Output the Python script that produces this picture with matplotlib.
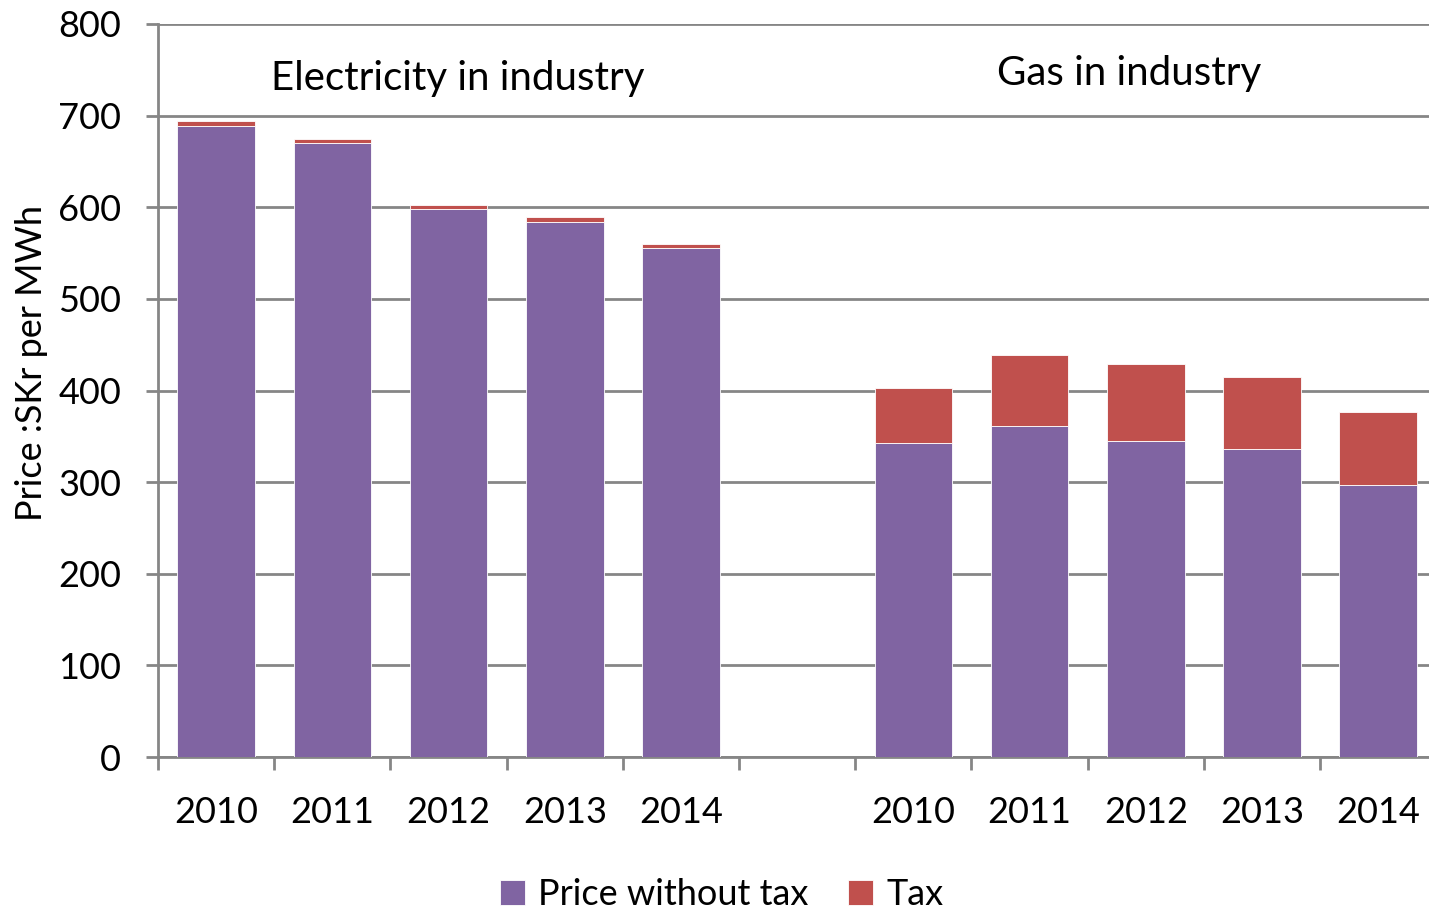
import matplotlib.pyplot as plt
import numpy as np

# ========== DATA ==========
YEARS = ["2010", "2011", "2012", "2013", "2014"]
ELEC_BASE = [689, 670, 598, 584, 555]
ELEC_TAX = [5, 5, 5, 5, 5]
GAS_BASE = [343, 361, 345, 336, 297]
GAS_TAX = [60, 78, 84, 79, 80]
GROUPS = ["Electricity in industry", "Gas in industry"]
SERIES = ["Price without tax", "Tax"]
# ==========================

PURPLE = "#8064A2"
RED = "#C0504D"
GRID = "#868686"

plt.rcParams["font.family"] = ["Lato", "DejaVu Sans"]

# 5 electricity slots, one empty slot, 5 gas slots
labels = YEARS + [""] + YEARS
base = ELEC_BASE + [0] + GAS_BASE
tax = ELEC_TAX + [0] + GAS_TAX
x = np.arange(len(labels))

fig = plt.figure(figsize=(14.29, 9.09), dpi=100)
# axes runs a little past the right edge of the picture, as in the original
ax = fig.add_axes([0.1106, 0.1672, 0.8945, 0.8064])

ax.bar(x, base, width=0.667, color=PURPLE, edgecolor="#ffffff", linewidth=0.6,
       label=SERIES[0], zorder=3)
ax.bar(x, tax, width=0.667, bottom=base, color=RED, edgecolor="#ffffff",
       linewidth=0.6, label=SERIES[1], zorder=3)

ax.set_xlim(-0.5, len(labels) - 0.5)
ax.set_ylim(0, 800)
ax.set_yticks(range(0, 801, 100))
ax.yaxis.grid(True, color=GRID, linewidth=2, zorder=0)

ax.set_xticks(x)
ax.set_xticklabels(labels)
ax.set_xticks(np.arange(-0.5, len(labels) - 0.5, 1), minor=True)
ax.tick_params(axis="x", which="major", length=0, pad=28, labelsize=26)
ax.tick_params(axis="x", which="minor", length=9.5, width=2, color=GRID)
ax.tick_params(axis="y", length=8.5, width=2, color=GRID, pad=18, labelsize=26)

for side in ["top", "right"]:
    ax.spines[side].set_visible(False)
for side in ["left", "bottom"]:
    ax.spines[side].set_color(GRID)
    ax.spines[side].set_linewidth(2)

ax.set_ylabel("Price :SKr per MWh", fontsize=26)
ax.yaxis.set_label_coords(-0.086, 0.537)

ax.text(2.08, 741, GROUPS[0], fontsize=29, ha="center", va="center")
ax.text(7.86, 746, GROUPS[1], fontsize=29, ha="center", va="center")

fig.legend(loc="center", bbox_to_anchor=(0.505, 0.016), ncol=2, frameon=False,
           fontsize=26, handlelength=0.7, handleheight=0.7, handletextpad=0.35,
           columnspacing=1.1)

fig.savefig("out.png", dpi=100)
